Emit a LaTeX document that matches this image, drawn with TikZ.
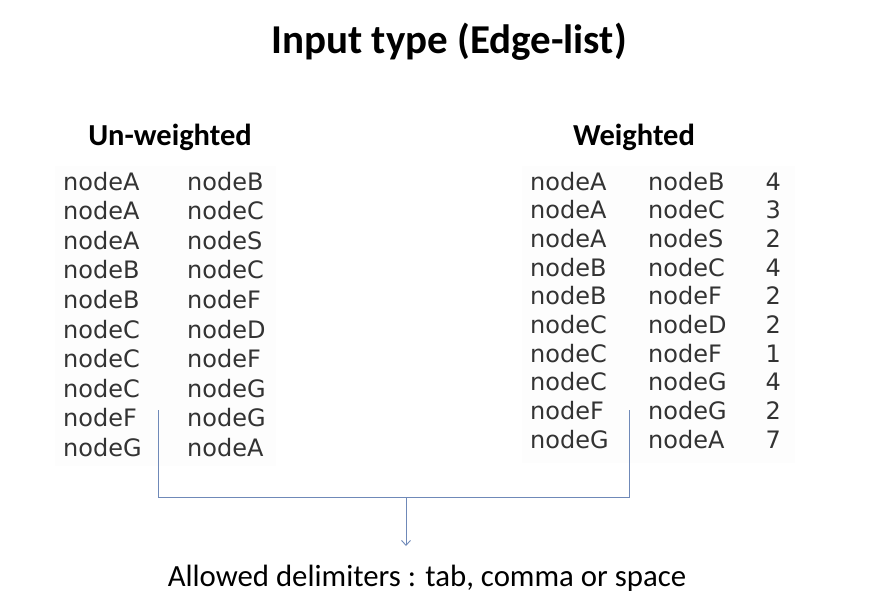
\documentclass[tikz,border=0pt]{standalone}
\usepackage{fontspec}
\usetikzlibrary{arrows.meta}
\setmainfont{Carlito}
\newfontfamily\listfont{DejaVu Sans}
\begin{document}
\begin{tikzpicture}[x=1pt,y=-1pt,
  cell/.style={anchor=base west,inner sep=0pt,font=\listfont\fontsize{24}{27}\selectfont,text=black!80},
  num/.style={cell,anchor=base east},
  heading/.style={inner sep=0pt,font=\bfseries\fontsize{30.5}{34}\selectfont},
  link/.style={draw=linkblue,line width=0.9pt},
  panel/.style={fill=black!0.7,draw=none}]
\definecolor{linkblue}{HTML}{6F89B8}
\useasboundingbox (0,0) rectangle (875,595);

% faint backdrops behind the two lists
\fill[panel] (55,166) rectangle (276,466);
\fill[panel] (522,166) rectangle (795,463);

\node[inner sep=0pt,font=\bfseries\fontsize{41}{46}\selectfont] (title) at (449,42) {Input type (Edge-list)};
\node[heading] (hU) at (170,137) {Un-weighted};
\node[heading] (hW) at (634,137) {Weighted};

% un-weighted edge list
\foreach \a/\b [count=\i] in {nodeA/nodeB,nodeA/nodeC,nodeA/nodeS,nodeB/nodeC,nodeB/nodeF,
  nodeC/nodeD,nodeC/nodeF,nodeC/nodeG,nodeF/nodeG,nodeG/nodeA}{
  \pgfmathsetmacro\yy{190+29.6*(\i-1)}
  \node[cell] (u\i a) at (63,\yy) {\a};
  \node[cell] (u\i b) at (187,\yy) {\b};
}

% weighted edge list
\foreach \a/\b/\w [count=\i] in {nodeA/nodeB/4,nodeA/nodeC/3,nodeA/nodeS/2,nodeB/nodeC/4,nodeB/nodeF/2,
  nodeC/nodeD/2,nodeC/nodeF/1,nodeC/nodeG/4,nodeF/nodeG/2,nodeG/nodeA/7}{
  \pgfmathsetmacro\yy{190+28.7*(\i-1)}
  \node[cell] (w\i a) at (530,\yy) {\a};
  \node[cell] (w\i b) at (648,\yy) {\b};
  \node[num] (w\i c) at (781,\yy) {\w};
}

\node[inner sep=0pt,font=\fontsize{30.8}{34}\selectfont] (note) at (427,578) {Allowed delimiters : tab, comma or space};

% bracket joining both lists to the note
\coordinate (lTop) at (158,410);
\coordinate (rTop) at (629,410);
\coordinate (lBot) at (158,497);
\coordinate (rBot) at (629,497);
\coordinate (mid) at (406,497);
\coordinate (tip) at (406,546);
\draw[link] (lTop) -- (lBot) -- (rBot) -- (rTop);
\draw[link,-{Straight Barb[length=5pt,width=9pt]}] (mid) -- (tip);
\end{tikzpicture}
\end{document}
